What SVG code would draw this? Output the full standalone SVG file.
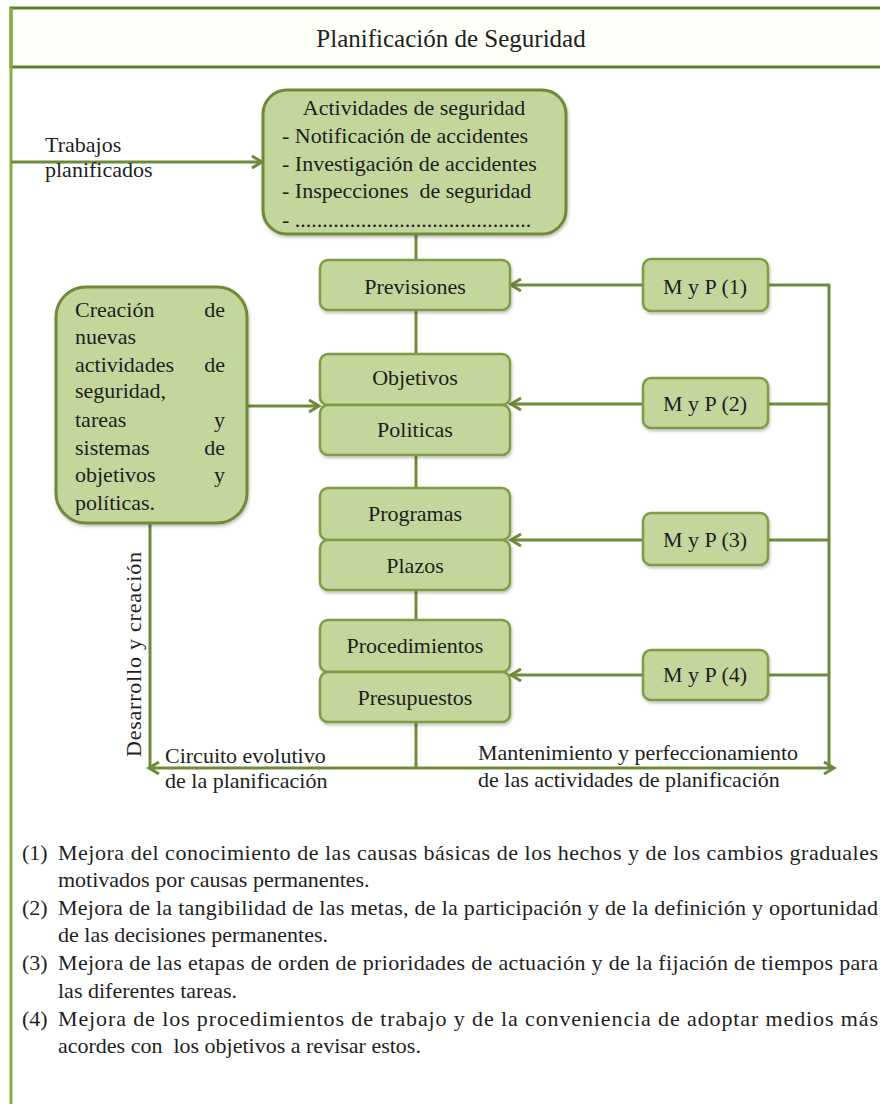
<svg xmlns="http://www.w3.org/2000/svg" width="880" height="1104" viewBox="0 0 880 1104" font-family="Liberation Serif, DejaVu Serif, serif">
<style>
text{font-family:'Liberation Serif','DejaVu Serif','Noto Serif',serif;font-size:22px;fill:#1e1e1e}
.c{text-anchor:middle}
.node{fill:#c3d69b;stroke:#7f9c45;stroke-width:2.5}
.big{fill:#c3d69b;stroke:#6f8a38;stroke-width:3}
.con{fill:none;stroke:#6f8a3a;stroke-width:3}
</style>
<defs>
<marker id="arr" markerUnits="userSpaceOnUse" markerWidth="16" markerHeight="16" refX="12" refY="7" orient="auto">
<path d="M2,1 L12,7 L2,13" fill="none" stroke="#6f8a3a" stroke-width="3"/>
</marker>
<filter id="sh" x="-10%" y="-10%" width="130%" height="130%">
<feDropShadow dx="1" dy="2" stdDeviation="1.5" flood-color="#000" flood-opacity="0.25"/>
</filter>
</defs>
<g id="frame">
<rect x="11" y="8" width="880" height="59" fill="#fffffa" stroke="#5f7f2f" stroke-width="3"/>
<line x1="11" y1="8" x2="11" y2="1104" stroke="#8aac3c" stroke-width="3"/>
<text id="title" class="c" x="451" y="47" style="font-size:25px">Planificación de Seguridad</text>
</g>
<g id="connectors">
<line class="con" x1="11" y1="162" x2="262" y2="162" marker-end="url(#arr)"/>
<line class="con" x1="416" y1="234" x2="416" y2="260"/>
<line class="con" x1="416" y1="310" x2="416" y2="354"/>
<line class="con" x1="416" y1="455" x2="416" y2="488"/>
<line class="con" x1="416" y1="590" x2="416" y2="620"/>
<line class="con" x1="416" y1="722" x2="416" y2="768"/>
<line class="con" x1="247" y1="406" x2="319" y2="406" marker-end="url(#arr)"/>
<line class="con" x1="643" y1="285" x2="511" y2="285" marker-end="url(#arr)"/>
<line class="con" x1="643" y1="404" x2="511" y2="404" marker-end="url(#arr)"/>
<line class="con" x1="643" y1="540" x2="511" y2="540" marker-end="url(#arr)"/>
<line class="con" x1="643" y1="675" x2="511" y2="675" marker-end="url(#arr)"/>
<line class="con" x1="768" y1="285" x2="830" y2="285"/>
<line class="con" x1="768" y1="404" x2="829" y2="404"/>
<line class="con" x1="768" y1="540" x2="829" y2="540"/>
<line class="con" x1="768" y1="675" x2="829" y2="675"/>
<line class="con" x1="829" y1="284" x2="829" y2="768"/>
<line class="con" x1="150" y1="523" x2="150" y2="769"/>
<line class="con" x1="416" y1="768" x2="149" y2="768" marker-end="url(#arr)"/>
<line class="con" x1="416" y1="768" x2="834" y2="768" marker-end="url(#arr)"/>
</g>
<g id="labels">
<text x="45" y="152">Trabajos</text>
<text x="45" y="177">planificados</text>
<text x="165" y="763">Circuito evolutivo</text>
<text x="165" y="788">de la planificación</text>
<text x="478" y="760">Mantenimiento y perfeccionamiento</text>
<text x="478" y="787">de las actividades de planificación</text>
<text transform="translate(141,757) rotate(-90)" x="0" y="0" textLength="205">Desarrollo y creación</text>
</g>
<g id="actividades">
<rect class="big" x="263" y="90" width="303" height="144" rx="24" filter="url(#sh)"/>
<text class="c" x="414" y="115">Actividades de seguridad</text>
<text x="282" y="143">- Notificación de accidentes</text>
<text x="282" y="171">- Investigación de accidentes</text>
<text x="282" y="198" xml:space="preserve">- Inspecciones  de seguridad</text>
<text x="282" y="227">- ...........................................</text>
</g>
<g id="creacion">
<rect class="big" x="56" y="287" width="191" height="236" rx="30" filter="url(#sh)"/>
<text><tspan x="75" y="317">Creación</tspan><tspan x="225" y="317" text-anchor="end">de</tspan></text>
<text x="75" y="344">nuevas</text>
<text><tspan x="75" y="372">actividades</tspan><tspan x="225" y="372" text-anchor="end">de</tspan></text>
<text x="75" y="398">seguridad,</text>
<text><tspan x="75" y="427">tareas</tspan><tspan x="225" y="427" text-anchor="end">y</tspan></text>
<text><tspan x="75" y="455">sistemas</tspan><tspan x="225" y="455" text-anchor="end">de</tspan></text>
<text><tspan x="75" y="482">objetivos</tspan><tspan x="225" y="482" text-anchor="end">y</tspan></text>
<text x="75" y="510">políticas.</text>
</g>
<g id="previsiones">
<rect class="node" x="320" y="260" width="190" height="50" rx="8" filter="url(#sh)"/>
<text class="c" x="415" y="294">Previsiones</text>
</g>
<g id="objetivos">
<rect class="node" x="320" y="354" width="190" height="51" rx="8" filter="url(#sh)"/>
<text class="c" x="415" y="385">Objetivos</text>
</g>
<g id="politicas">
<rect class="node" x="320" y="405" width="190" height="50" rx="8" filter="url(#sh)"/>
<text class="c" x="415" y="437">Politicas</text>
</g>
<g id="programas">
<rect class="node" x="320" y="488" width="190" height="52" rx="8" filter="url(#sh)"/>
<text class="c" x="415" y="521">Programas</text>
</g>
<g id="plazos">
<rect class="node" x="320" y="540" width="190" height="50" rx="8" filter="url(#sh)"/>
<text class="c" x="415" y="573">Plazos</text>
</g>
<g id="procedimientos">
<rect class="node" x="320" y="620" width="190" height="52" rx="8" filter="url(#sh)"/>
<text class="c" x="415" y="653">Procedimientos</text>
</g>
<g id="presupuestos">
<rect class="node" x="320" y="672" width="190" height="50" rx="8" filter="url(#sh)"/>
<text class="c" x="415" y="705">Presupuestos</text>
</g>
<g id="myp1">
<rect class="node" x="643" y="259" width="125" height="52" rx="8" filter="url(#sh)"/>
<text class="c" x="705" y="294">M y P (1)</text>
</g>
<g id="myp2">
<rect class="node" x="643" y="378" width="125" height="50" rx="8" filter="url(#sh)"/>
<text class="c" x="705" y="411">M y P (2)</text>
</g>
<g id="myp3">
<rect class="node" x="643" y="513" width="125" height="52" rx="8" filter="url(#sh)"/>
<text class="c" x="705" y="547">M y P (3)</text>
</g>
<g id="myp4">
<rect class="node" x="643" y="650" width="125" height="50" rx="8" filter="url(#sh)"/>
<text class="c" x="705" y="682">M y P (4)</text>
</g>
<g id="notes">
<text x="22" y="860">(1)</text>
<text x="58" y="860" textLength="820">Mejora del conocimiento de las causas básicas de los hechos y de los cambios graduales</text>
<text x="58" y="887">motivados por causas permanentes.</text>
<text x="22" y="915">(2)</text>
<text x="58" y="915" textLength="820">Mejora de la tangibilidad de las metas, de la participación y de la definición y oportunidad</text>
<text x="58" y="942">de las decisiones permanentes.</text>
<text x="22" y="970">(3)</text>
<text x="58" y="970" textLength="820">Mejora de las etapas de orden de prioridades de actuación y de la fijación de tiempos para</text>
<text x="58" y="998">las diferentes tareas.</text>
<text x="22" y="1026">(4)</text>
<text x="58" y="1026" textLength="820">Mejora de los procedimientos de trabajo y de la conveniencia de adoptar medios más</text>
<text x="58" y="1053" xml:space="preserve">acordes con  los objetivos a revisar estos.</text>
</g>
</svg>
